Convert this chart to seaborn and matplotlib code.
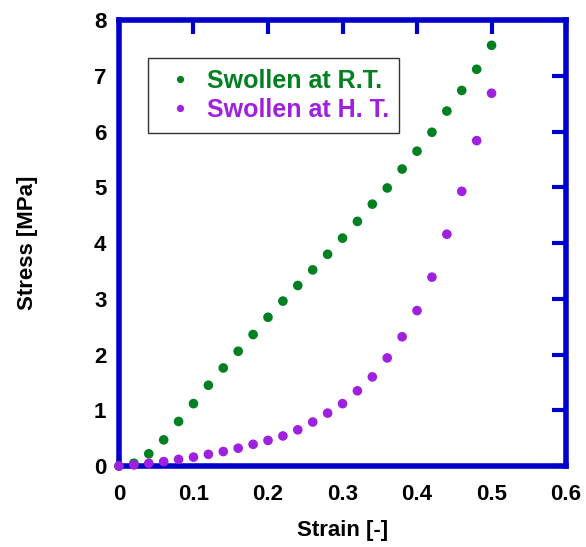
import numpy as np
import pandas as pd
import matplotlib
matplotlib.use("Agg")
import matplotlib.pyplot as plt
import seaborn as sns

strain = [0.00, 0.02, 0.04, 0.06, 0.08, 0.10, 0.12, 0.14, 0.16, 0.18, 0.20, 0.22, 0.24,
          0.26, 0.28, 0.30, 0.32, 0.34, 0.36, 0.38, 0.40, 0.42, 0.44, 0.46, 0.48, 0.50]
stress_rt = [0.0, 0.05, 0.22, 0.47, 0.80, 1.12, 1.45, 1.76, 2.06, 2.36, 2.67, 2.96, 3.24,
             3.52, 3.80, 4.09, 4.39, 4.70, 4.99, 5.33, 5.65, 5.99, 6.37, 6.74, 7.12, 7.55]
stress_ht = [0.0, 0.02, 0.05, 0.08, 0.12, 0.16, 0.21, 0.26, 0.32, 0.39, 0.46, 0.54, 0.65,
             0.79, 0.95, 1.12, 1.35, 1.60, 1.94, 2.32, 2.79, 3.39, 4.16, 4.93, 5.84, 6.69]
labels = ["Swollen at R.T.", "Swollen at H. T."]
colors = ["#008020", "#A020E0"]

df = pd.concat([
    pd.DataFrame({"Strain": strain, "Stress": stress_rt, "Sample": labels[0]}),
    pd.DataFrame({"Strain": strain, "Stress": stress_ht, "Sample": labels[1]}),
])

sns.set_style("white")
plt.rcParams["font.family"] = ["Liberation Sans", "DejaVu Sans"]
plt.rcParams["font.weight"] = "bold"
plt.rcParams["text.color"] = "black"
plt.rcParams["axes.labelcolor"] = "black"
plt.rcParams["xtick.color"] = "black"
plt.rcParams["ytick.color"] = "black"

fig = plt.figure(figsize=(5.86, 5.47), dpi=100)
ax = fig.add_axes([0.203, 0.148, 0.763, 0.815])
sns.scatterplot(data=df, x="Strain", y="Stress", hue="Sample", palette=colors,
                s=48, edgecolor="none", ax=ax, clip_on=False, zorder=3)

ax.set_xlim(0, 0.6)
ax.set_ylim(0, 8)
ax.set_xticks(np.arange(0, 0.61, 0.1))
ax.set_xticklabels(["0", "0.1", "0.2", "0.3", "0.4", "0.5", "0.6"])
ax.set_yticks(range(0, 9))
for s in ax.spines.values():
    s.set_color("#0000CC")
    s.set_linewidth(4)
ax.tick_params(direction="in", length=10, width=3, color="#0000CC",
               top=True, right=True, labelsize=16, labelcolor="black", pad=9)
ax.tick_params(axis="x", pad=13)
for t in ax.get_xticklabels() + ax.get_yticklabels():
    t.set_fontweight("bold")
ax.set_xlabel("Strain [-]", fontsize=16, fontweight="bold", labelpad=11)
ax.set_ylabel("Stress [MPa]", fontsize=16, fontweight="bold", labelpad=40)

leg = ax.legend(loc="upper left", bbox_to_anchor=(0.065, 0.915), borderaxespad=0,
                frameon=True, fancybox=False, edgecolor="black", fontsize=18,
                markerscale=0.75, handlelength=1.72, handletextpad=0.2,
                borderpad=0.42, labelspacing=0.22)
leg.get_frame().set_linewidth(1)
for txt, c in zip(leg.get_texts(), colors):
    txt.set_color(c)
    txt.set_fontweight("bold")

fig.savefig("out.png", dpi=100)
